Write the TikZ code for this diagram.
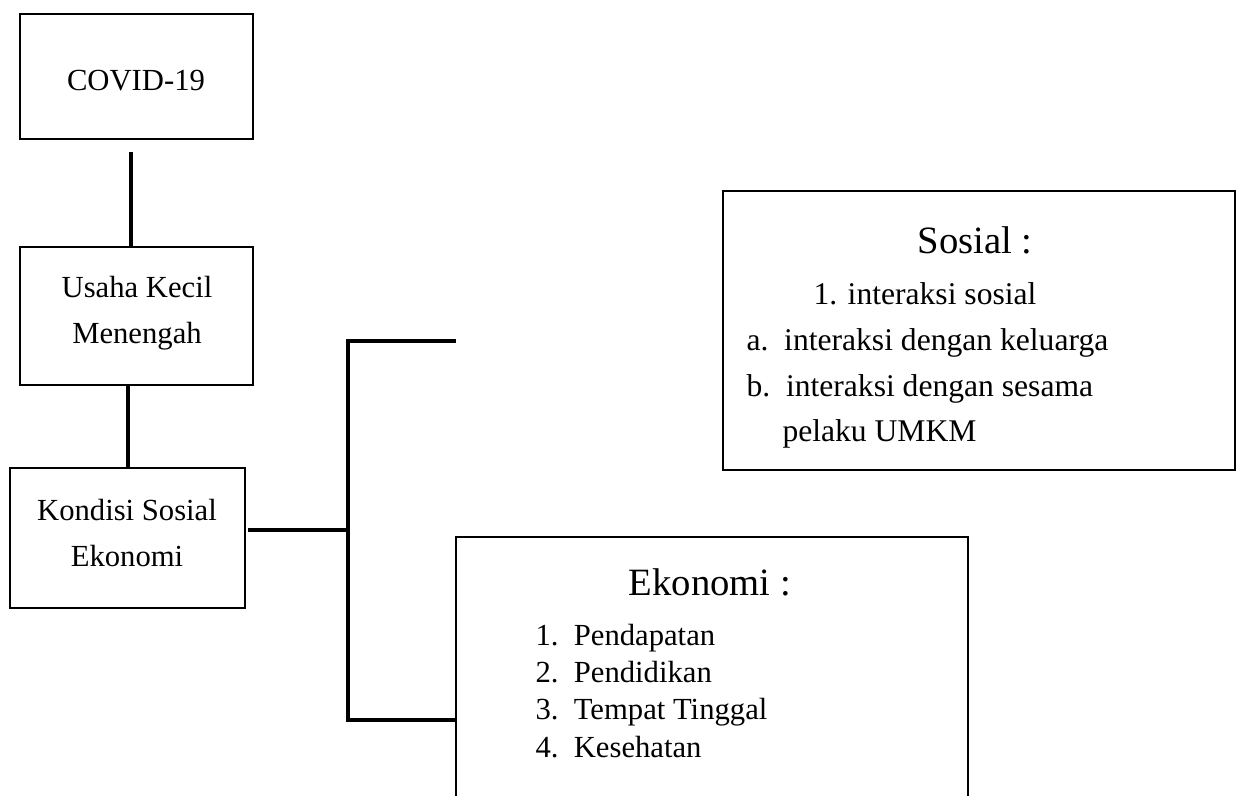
\documentclass[tikz,border=0pt]{standalone}
\usepackage{fontspec}
\setmainfont{Liberation Serif}
\usetikzlibrary{fit}

\tikzset{every picture/.style={line width=0.75pt}}
\tikzset{
  frame/.style={draw, line width=1.8pt, inner sep=0pt},
  link/.style={line width=3pt},
  bodytxt/.style={inner sep=0.75pt, font=\fontsize{23}{34.5}\selectfont},
  listtxt/.style={inner sep=0.75pt, font=\fontsize{23.7}{34.5}\selectfont},
  headtxt/.style={inner sep=0.75pt, font=\fontsize{29}{36}\selectfont}
}

\begin{document}
\begin{tikzpicture}[x=0.75pt,y=0.75pt,yscale=-1,xscale=1]
\useasboundingbox (0,0) rectangle (1239,796);

%Shape: Rectangle [COVID-19]
\node (covid) [frame, fit={(20,14) (253,139)}] {};
%Shape: Rectangle [Usaha Kecil Menengah]
\node (usaha) [frame, fit={(20,247) (253,385)}] {};
%Shape: Rectangle [Kondisi Sosial Ekonomi]
\node (kondisi) [frame, fit={(10,468) (245,608)}] {};
%Shape: Rectangle [Sosial]
\node (sosial) [frame, fit={(723,191) (1235,470)}] {};
%Shape: open Rectangle [Ekonomi]
\draw [line width=1.8pt] (456,796) |- (968,537) -- (968,796) ;

% Text Node
\draw (136,90) node (covidtxt) [bodytxt, anchor=base] {COVID-19};
% Text Node
\draw (137,343) node (usahatxt) [bodytxt, anchor=base, align=center] {Usaha Kecil\\Menengah};
% Text Node
\draw (127,566) node (kondisitxt) [bodytxt, anchor=base, align=center] {Kondisi Sosial\\Ekonomi};
% Text Node
\draw (975,253) node (sosialhead) [headtxt, anchor=base] {Sosial :};
% Text Node
\draw (812,304) node (sos1) [listtxt, anchor=base west] {1. interaksi sosial};
% Text Node
\draw (745,350) node (sosa) [listtxt, anchor=base west] {a.\hspace{0.5em}interaksi dengan keluarga};
% Text Node
\draw (745,396) node (sosb) [listtxt, anchor=base west] {b.\hspace{0.5em}interaksi dengan sesama};
% Text Node
\draw (781,441) node (sosb2) [listtxt, anchor=base west] {pelaku UMKM};
% Text Node
\draw (710,595) node (ekohead) [headtxt, anchor=base] {Ekonomi :};
% Text Node
\draw (534,645) node (eko1) [bodytxt, anchor=base west] {1.\hspace{0.5em}Pendapatan};
% Text Node
\draw (534,682) node (eko2) [bodytxt, anchor=base west] {2.\hspace{0.5em}Pendidikan};
% Text Node
\draw (534,719) node (eko3) [bodytxt, anchor=base west] {3.\hspace{0.5em}Tempat Tinggal};
% Text Node
\draw (534,757) node (eko4) [bodytxt, anchor=base west] {4.\hspace{0.5em}Kesehatan};

\coordinate (c1) at (131,152);
\coordinate (k1) at (248,530);
\coordinate (topEnd) at (456,341);
\coordinate (trunkBot) at (348,720);
\coordinate (ekoW) at (456,720);

% Connection
\draw [link] (c1) -- (c1 |- usaha.north) ;
% Connection
\draw [link] (usaha.south -| kondisi.north) -- (kondisi.north) ;
% Connection
\draw [link] (k1) -- (k1 -| trunkBot) ;
% Connection
\draw [link] (topEnd) -| (trunkBot) -- (ekoW) ;

\end{tikzpicture}
\end{document}
